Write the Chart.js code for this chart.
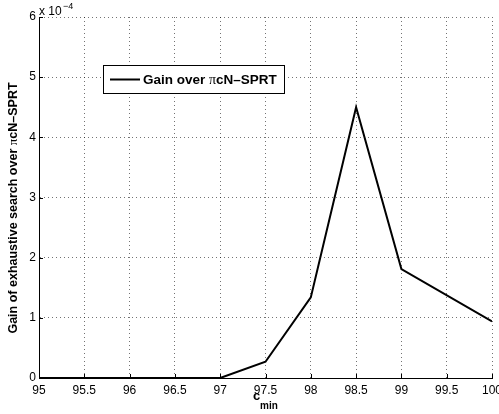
<!DOCTYPE html>
<html>
<head>
<meta charset="utf-8">
<script src="https://cdn.jsdelivr.net/npm/chart.js@4.4.0/dist/chart.umd.min.js"></script>
<style>
  html, body { margin: 0; padding: 0; background: #fff; }
  #wrap { width: 499px; height: 414px; }
</style>
</head>
<body>
<div id="wrap"><canvas id="grafico"></canvas></div>
<script>
// valores (eixo y em unidades de 10^-4)
const cMin = [95, 95.5, 96, 96.5, 97, 97.5, 98, 98.5, 99, 100];
const ganho = [0, 0, 0, 0, 0, 0.27, 1.34, 4.50, 1.81, 0.94];
const ticksX = [95, 95.5, 96, 96.5, 97, 97.5, 98, 98.5, 99, 99.5, 100];
const ticksY = [0, 1, 2, 3, 4, 5, 6];

const fonte = '"Liberation Sans", Arial, Helvetica, sans-serif';
const serifa = '"Liberation Serif", "DejaVu Serif", serif';

// escreve texto com partes em fontes diferentes
function textoMisto(ctx, partes, x, y, centro) {
  let total = 0;
  partes.forEach(p => { ctx.font = p[0]; total += ctx.measureText(p[1]).width; });
  let pos = centro ? x - total / 2 : x;
  partes.forEach(p => {
    ctx.font = p[0];
    ctx.fillText(p[1], pos, y);
    pos += ctx.measureText(p[1]).width;
  });
}

// legenda, rotulos e marcas internas estilo matlab
const extras = {
  id: 'extras',
  afterDraw(chart) {
    const ctx = chart.ctx;
    const area = chart.chartArea;
    const sx = chart.scales.x;
    const sy = chart.scales.y;
    ctx.save();

    // marcas para dentro
    ctx.strokeStyle = '#000';
    ctx.lineWidth = 1;
    ctx.beginPath();
    ticksX.forEach(v => {
      const px = Math.round(sx.getPixelForValue(v)) + 0.5;
      ctx.moveTo(px, area.bottom);
      ctx.lineTo(px, area.bottom - 4);
    });
    ticksY.forEach(v => {
      const py = Math.round(sy.getPixelForValue(v)) + 0.5;
      ctx.moveTo(area.left, py);
      ctx.lineTo(area.left + 4, py);
    });
    ctx.stroke();

    // x 10^-4
    ctx.fillStyle = '#000';
    ctx.textBaseline = 'alphabetic';
    ctx.textAlign = 'left';
    ctx.font = '12px ' + fonte;
    ctx.fillText('x 10', 39, 15);
    ctx.font = '9px ' + fonte;
    ctx.fillText('\u22124', 63, 9);

    // rotulo x
    ctx.font = 'bold 13px ' + fonte;
    ctx.fillText('c', 253, 400);
    ctx.font = 'bold 10px ' + fonte;
    ctx.fillText('min', 260, 409);

    // rotulo y
    ctx.save();
    ctx.translate(17, 208);
    ctx.rotate(-Math.PI / 2);
    textoMisto(ctx, [
      ['bold 12.5px ' + fonte, 'Gain of exhaustive search over '],
      ['13px ' + serifa, '\u03c0'],
      ['bold 12.5px ' + fonte, 'cN\u2013SPRT']
    ], 0, 0, true);
    ctx.restore();

    // caixa da legenda
    ctx.fillStyle = '#fff';
    ctx.fillRect(103, 65, 181, 28);
    ctx.strokeStyle = '#000';
    ctx.lineWidth = 1;
    ctx.strokeRect(103.5, 65.5, 181, 28);
    ctx.lineWidth = 2;
    ctx.beginPath();
    ctx.moveTo(110, 79.5);
    ctx.lineTo(140, 79.5);
    ctx.stroke();
    ctx.fillStyle = '#000';
    textoMisto(ctx, [
      ['bold 13.5px ' + fonte, 'Gain over '],
      ['14px ' + serifa, '\u03c0'],
      ['bold 13.5px ' + fonte, 'cN\u2013SPRT']
    ], 143, 84, false);

    ctx.restore();
  }
};

const grafico = document.getElementById('grafico');

let meuGrafico = new Chart(grafico, {
  type: 'scatter',
  data: {
    datasets: [{
      label: 'Gain over \u03c0cN\u2013SPRT',
      data: cMin.map((c, i) => ({ x: c, y: ganho[i] })),
      showLine: true,
      borderColor: '#000',
      borderWidth: 2,
      pointRadius: 0,
      fill: false,
      tension: 0
    }]
  },
  options: {
    responsive: true,
    maintainAspectRatio: false,
    animation: false,
    devicePixelRatio: 1,
    layout: {
      padding: { top: 17, right: 7, left: 0, bottom: 0 }
    },
    plugins: {
      legend: { display: false },
      tooltip: { enabled: false }
    },
    scales: {
      x: {
        type: 'linear',
        min: 95,
        max: 100,
        afterFit(scale) {
          scale.height = 36;
          scale.paddingLeft = 0;
          scale.paddingRight = 0;
        },
        afterBuildTicks(scale) { scale.ticks = ticksX.map(v => ({ value: v })); },
        ticks: {
          color: '#000',
          font: { family: fonte, size: 12 },
          padding: 5,
          maxRotation: 0,
          autoSkip: false,
          callback: v => String(v)
        },
        grid: {
          color: 'rgba(0,0,0,0.55)',
          drawTicks: false
        },
        // no v4 o dash da borda vale para as linhas de grade
        border: { display: true, color: '#000', width: 1, dash: [1, 3] }
      },
      y: {
        min: 0,
        max: 6,
        afterFit(scale) {
          scale.width = 39;
          scale.paddingTop = 0;
          scale.paddingBottom = 0;
        },
        afterBuildTicks(scale) { scale.ticks = ticksY.map(v => ({ value: v })); },
        ticks: {
          color: '#000',
          font: { family: fonte, size: 12 },
          padding: 3,
          callback: v => String(v)
        },
        grid: {
          color: 'rgba(0,0,0,0.55)',
          drawTicks: false
        },
        border: { display: true, color: '#000', width: 1, dash: [1, 3] }
      }
    }
  },
  plugins: [extras]
});
</script>
</body>
</html>
